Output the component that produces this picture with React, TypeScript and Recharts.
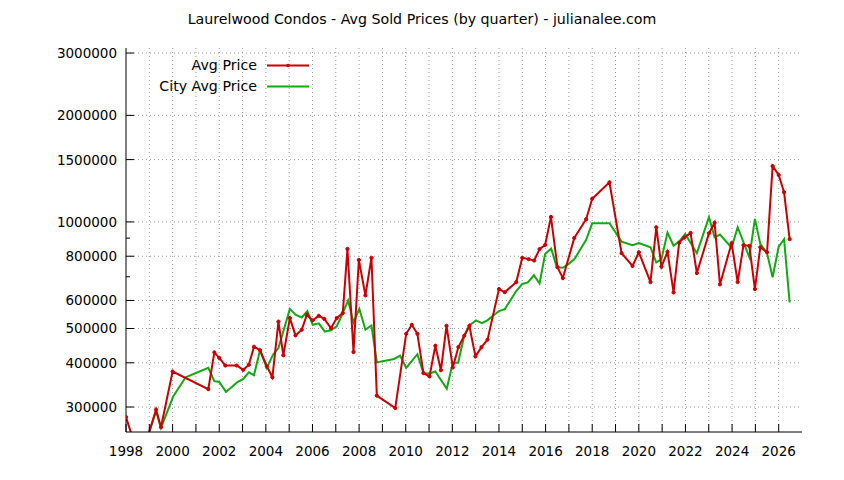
import React from 'react';
import { LineChart, Line, XAxis, YAxis, CartesianGrid } from 'recharts';

const avgYears = [
  1998.0, 1998.61, 1999.29, 1999.5, 2000.0, 2001.53, 2001.79, 2002.0, 2002.26, 2002.75,
  2003.03, 2003.27, 2003.49, 2003.75, 2004.04, 2004.28, 2004.54, 2004.75, 2005.03, 2005.27,
  2005.54, 2005.76, 2006.01, 2006.27, 2006.51, 2006.79, 2007.04, 2007.3, 2007.5, 2007.76,
  2007.99, 2008.27, 2008.53, 2008.76, 2009.55, 2010.02, 2010.26, 2010.5, 2010.76, 2011.02,
  2011.27, 2011.51, 2011.75, 2012.02, 2012.26, 2012.51, 2012.73, 2012.99, 2013.25, 2013.51,
  2014.0, 2014.25, 2014.74, 2015.0, 2015.27, 2015.51, 2015.74, 2015.98, 2016.23, 2016.51,
  2016.74, 2017.23, 2017.74, 2018.0, 2018.74, 2019.26, 2019.73, 2020.0, 2020.5, 2020.75,
  2020.97, 2021.23, 2021.49, 2021.73, 2021.95, 2022.22, 2022.49, 2023.01, 2023.25, 2023.48,
  2023.98, 2024.24, 2024.49, 2024.74, 2024.98, 2025.21, 2025.5, 2025.74, 2026.0, 2026.23,
  2026.47,
];
const avgPrices = [
  281000, 210000, 295000, 263000, 378000, 337000, 428000, 413000, 393000, 393000,
  382000, 395000, 444000, 434000, 391000, 364000, 523000, 420000, 535000, 478000,
  496000, 547000, 527000, 543000, 532000, 501000, 535000, 553000, 839000, 429000,
  781000, 620000, 792000, 323000, 298000, 483000, 512000, 483000, 374000, 366000,
  447000, 381000, 509000, 388000, 443000, 477000, 509000, 417000, 443000, 465000,
  646000, 633000, 676000, 792000, 785000, 778000, 838000, 861000, 1033000, 745000,
  694000, 901000, 1018000, 1163000, 1294000, 816000, 751000, 821000, 676000, 966000,
  748000, 823000, 632000, 874000, 903000, 931000, 717000, 929000, 995000, 666000,
  871000, 676000, 860000, 856000, 646000, 848000, 821000, 1438000, 1357000, 1213000,
  894000,
];

const cityYears = [
  1998.0, 1998.61, 1999.29, 1999.5, 2000.03, 2000.56, 2001.53, 2001.79, 2002.0, 2002.29,
  2002.78, 2003.03, 2003.27, 2003.49, 2003.75, 2004.04, 2004.3, 2004.54, 2005.03, 2005.27,
  2005.54, 2005.78, 2006.01, 2006.27, 2006.53, 2006.79, 2007.04, 2007.3, 2007.53, 2007.76,
  2008.01, 2008.27, 2008.53, 2008.76, 2009.5, 2009.76, 2010.02, 2010.5, 2010.76, 2011.02,
  2011.27, 2011.76, 2012.02, 2012.25, 2012.51, 2012.76, 2013.01, 2013.27, 2013.5, 2014.0,
  2014.25, 2014.74, 2015.0, 2015.24, 2015.5, 2015.74, 2015.98, 2016.24, 2016.48, 2016.74,
  2016.98, 2017.24, 2017.48, 2017.74, 2018.0, 2018.74, 2019.26, 2019.73, 2020.0, 2020.5,
  2020.75, 2020.97, 2021.23, 2021.49, 2021.73, 2021.99, 2022.49, 2023.01, 2023.25, 2023.48,
  2023.98, 2024.24, 2024.74, 2024.98, 2025.21, 2025.5, 2025.74, 2026.0, 2026.23, 2026.47,
];
const cityPrices = [
  240000, 215000, 292000, 262000, 322000, 364000, 387000, 355000, 353000, 331000,
  353000, 360000, 376000, 369000, 434000, 387000, 421000, 440000, 568000, 547000,
  537000, 560000, 512000, 517000, 490000, 494000, 507000, 553000, 600000, 520000,
  568000, 496000, 510000, 401000, 410000, 419000, 387000, 423000, 374000, 373000,
  378000, 338000, 400000, 400000, 477000, 512000, 527000, 518000, 527000, 560000,
  567000, 638000, 668000, 675000, 707000, 670000, 812000, 841000, 745000, 742000,
  760000, 785000, 834000, 890000, 991000, 991000, 880000, 860000, 871000, 848000,
  768000, 785000, 933000, 857000, 880000, 925000, 816000, 1031000, 905000, 921000,
  846000, 966000, 795000, 1020000, 867000, 816000, 698000, 852000, 894000, 592000,
];

const xTickYears = [
  1998, 1999, 2000, 2001, 2002, 2003, 2004, 2005, 2006, 2007, 2008, 2009, 2010, 2011, 2012,
  2013, 2014, 2015, 2016, 2017, 2018, 2019, 2020, 2021, 2022, 2023, 2024, 2025, 2026,
];
const xGridYears = xTickYears.slice(1);
const yTickValues = [300000, 400000, 500000, 600000, 700000, 800000, 900000, 1000000, 1500000, 2000000, 3000000];
const yMinorValues = [700000, 900000];
const yGridValues = yTickValues.filter((v) => !yMinorValues.includes(v));

const avgData = avgYears.map((year, i) => ({ year, price: avgPrices[i] }));
const cityData = cityYears.map((year, i) => ({ year, price: cityPrices[i] }));

const FONT = '"DejaVu Sans", Verdana, sans-serif';
const TEXT_SIZE = 14.2;
const NUM_SIZE = 13.5;
const TEXT_COLOR = '#000';
const RED = '#cc0000';
const GREEN = '#11aa11';

const BottomTick = (props: any) => {
  const { x, y, payload } = props;
  const v = payload.value as number;
  const labeled = v % 2 === 0;
  return (
    <g>
      <line x1={x} x2={x} y1={y} y2={y - 8} stroke="#000" strokeWidth={1} />
      {labeled && (
        <text x={x} y={y + 19} textAnchor="middle" dominantBaseline="central" fontFamily={FONT} fontSize={NUM_SIZE} fill={TEXT_COLOR}>
          {v}
        </text>
      )}
    </g>
  );
};

const TopTick = (props: any) => {
  const { x, y } = props;
  return <line x1={x} x2={x} y1={y} y2={y + 6} stroke="#000" strokeWidth={1} />;
};

const LeftTick = (props: any) => {
  const { x, y, payload } = props;
  const v = payload.value as number;
  const minor = yMinorValues.includes(v);
  return (
    <g>
      <line x1={x} x2={x + (minor ? 4 : 8)} y1={y} y2={y} stroke="#000" strokeWidth={1} />
      {!minor && (
        <text x={x - 9} y={y} textAnchor="end" dominantBaseline="central" fontFamily={FONT} fontSize={NUM_SIZE} fill={TEXT_COLOR}>
          {v}
        </text>
      )}
    </g>
  );
};

const RightTick = (props: any) => {
  const { x, y, payload } = props;
  const v = payload.value as number;
  const minor = yMinorValues.includes(v);
  return <line x1={x} x2={x - (minor ? 4 : 8)} y1={y} y2={y} stroke="#000" strokeWidth={1} />;
};

export default function App() {
  return (
    <div style={{ position: 'absolute', left: 0, top: 0, width: 844, height: 480, background: '#fff' }}>
      <LineChart width={844} height={480} margin={{ top: 48, right: 42, bottom: 0, left: 0 }}>
        <CartesianGrid
          stroke="#9a9a9a"
          strokeDasharray="1 3"
          horizontalValues={yGridValues}
          verticalValues={xGridYears}
          xAxisId="bottom"
          yAxisId="left"
        />
        <XAxis
          xAxisId="bottom"
          dataKey="year"
          type="number"
          domain={[1998, 2027]}
          ticks={xTickYears}
          interval={0}
          allowDataOverflow
          height={48}
          tickSize={0}
          tickMargin={0}
          tick={<BottomTick />}
          axisLine={{ stroke: '#000', strokeWidth: 1 }}
          tickLine={false}
        />
        <XAxis
          xAxisId="top"
          orientation="top"
          dataKey="year"
          type="number"
          domain={[1998, 2027]}
          ticks={xTickYears}
          interval={0}
          allowDataOverflow
          height={0}
          tickSize={0}
          tickMargin={0}
          tick={<TopTick />}
          axisLine={{ stroke: '#000', strokeWidth: 1 }}
          tickLine={false}
        />
        <YAxis
          yAxisId="left"
          scale="log"
          type="number"
          domain={[255000, 3100000]}
          ticks={yTickValues}
          interval={0}
          allowDataOverflow
          width={126}
          tickSize={0}
          tickMargin={0}
          tick={<LeftTick />}
          axisLine={{ stroke: '#000', strokeWidth: 1 }}
          tickLine={false}
        />
        <YAxis
          yAxisId="right"
          orientation="right"
          scale="log"
          type="number"
          domain={[255000, 3100000]}
          ticks={yTickValues}
          interval={0}
          allowDataOverflow
          width={0}
          tickSize={0}
          tickMargin={0}
          tick={<RightTick />}
          axisLine={{ stroke: '#000', strokeWidth: 1 }}
          tickLine={false}
        />
        <Line
          xAxisId="bottom"
          yAxisId="left"
          data={cityData}
          dataKey="price"
          type="linear"
          stroke={GREEN}
          strokeWidth={2}
          dot={false}
          isAnimationActive={false}
        />
        <Line
          xAxisId="bottom"
          yAxisId="left"
          data={avgData}
          dataKey="price"
          type="linear"
          stroke={RED}
          strokeWidth={2}
          dot={{ r: 1.6, fill: RED, stroke: RED, strokeWidth: 1 }}
          isAnimationActive={false}
        />
      </LineChart>
      <svg width={844} height={480} style={{ position: 'absolute', left: 0, top: 0, pointerEvents: 'none' }}>
        <text x={422} y={19} textAnchor="middle" dominantBaseline="central" fontFamily={FONT} fontSize={TEXT_SIZE} fill={TEXT_COLOR}>
          Laurelwood Condos - Avg Sold Prices (by quarter) - julianalee.com
        </text>
        <text x={257} y={65} textAnchor="end" dominantBaseline="central" fontFamily={FONT} fontSize={TEXT_SIZE} fill={TEXT_COLOR}>
          Avg Price
        </text>
        <line x1={267} x2={309} y1={65.5} y2={65.5} stroke={RED} strokeWidth={2} />
        <circle cx={288} cy={65.5} r={1.8} fill={RED} />
        <text x={257} y={86} textAnchor="end" dominantBaseline="central" fontFamily={FONT} fontSize={TEXT_SIZE} fill={TEXT_COLOR}>
          City Avg Price
        </text>
        <line x1={267} x2={309} y1={86.5} y2={86.5} stroke={GREEN} strokeWidth={2} />
      </svg>
    </div>
  );
}
